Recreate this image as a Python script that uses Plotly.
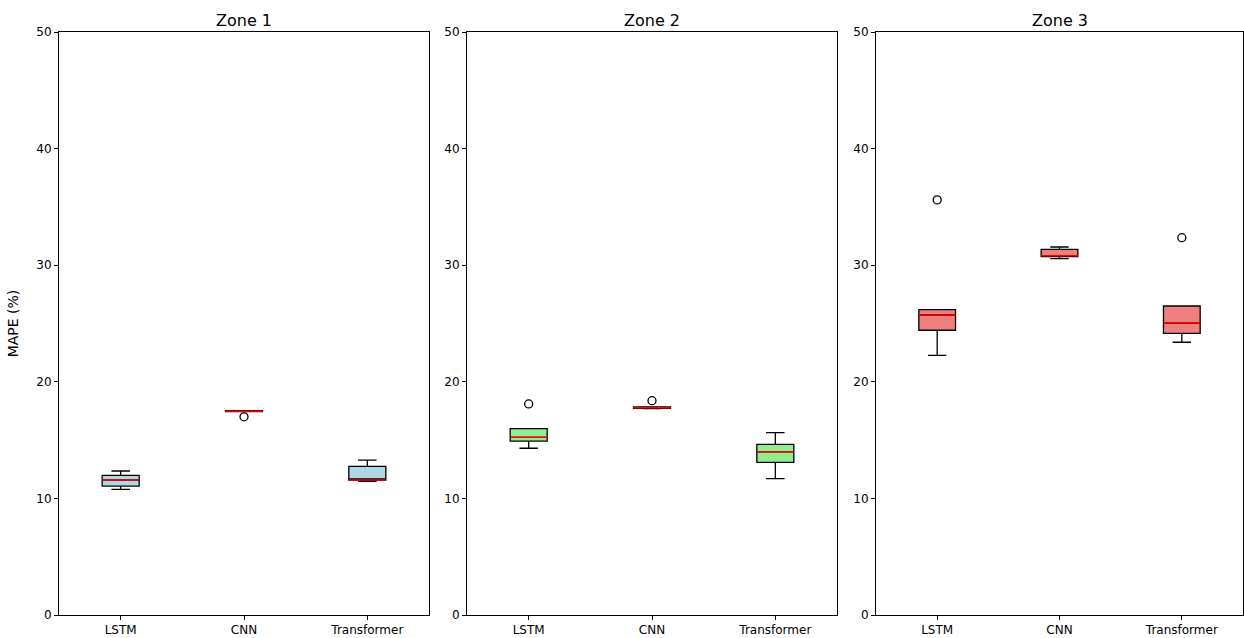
import plotly.graph_objects as go

zones = ["Zone 1", "Zone 2", "Zone 3"]
models = ["LSTM", "CNN", "Transformer"]
fills = ["#add8e6", "#90ee90", "#f08080"]

# precomputed box statistics [LSTM, CNN, Transformer] per zone
lower = [[10.78, 17.45, 11.47], [14.30, 17.70, 11.69], [22.27, 30.56, 23.39]]
q1 = [[11.06, 17.45, 11.58], [14.92, 17.72, 13.09], [24.42, 30.73, 24.16]]
median = [[11.58, 17.48, 11.58], [15.24, 17.78, 14.00], [25.73, 30.82, 25.04]]
q3 = [[11.98, 17.52, 12.75], [15.98, 17.85, 14.64], [26.19, 31.36, 26.50]]
upper = [[12.35, 17.52, 13.29], [15.98, 17.85, 15.64], [26.19, 31.56, 26.50]]
outliers = [[[], [17.00], []], [[18.10], [18.38], []], [[35.6], [], [32.36]]]

W, H = 1244, 638
L, R, T, B = 59, 1, 32, 23
PW, PH = W - L - R, H - T - B
xdoms = [(59, 429), (467, 837), (876, 1243)]
bw = 0.3

fig = go.Figure()
layout = {}
for z in range(3):
    xa = "x" if z == 0 else f"x{z+1}"
    ya = "y" if z == 0 else f"y{z+1}"
    for m in range(3):
        pos = m + 1
        fig.add_trace(go.Box(
            x=[pos], q1=[q1[z][m]], median=[median[z][m]], q3=[q3[z][m]],
            lowerfence=[lower[z][m]], upperfence=[upper[z][m]],
            width=bw, whiskerwidth=0.5, fillcolor=fills[z],
            line=dict(color="black", width=1.3), boxpoints=False,
            xaxis=xa, yaxis=ya, showlegend=False, hoverinfo="skip"))
        fig.add_trace(go.Scatter(
            x=[pos - bw / 2, pos + bw / 2], y=[median[z][m]] * 2,
            mode="lines", line=dict(color="#ff0000", width=1.5),
            xaxis=xa, yaxis=ya, showlegend=False, hoverinfo="skip"))
        if outliers[z][m]:
            fig.add_trace(go.Scatter(
                x=[pos] * len(outliers[z][m]), y=outliers[z][m], mode="markers",
                marker=dict(symbol="circle-open", size=8, color="black", line=dict(width=1.3)),
                xaxis=xa, yaxis=ya, showlegend=False, hoverinfo="skip"))
    x0, x1 = xdoms[z]
    layout["xaxis" if z == 0 else f"xaxis{z+1}"] = dict(
        domain=[(x0 - L) / PW, min((x1 - L) / PW, 1)], range=[0.5, 3.5], tickmode="array",
        tickvals=[1, 2, 3], ticktext=models, showline=True, mirror=True,
        linecolor="black", linewidth=1, ticks="outside", ticklen=4,
        tickcolor="black", showgrid=False, zeroline=False, anchor=ya, automargin=False,
        tickfont=dict(size=12, color="black", family="DejaVu Sans"))
    layout["yaxis" if z == 0 else f"yaxis{z+1}"] = dict(
        domain=[0, 1], range=[0, 50],
        tickvals=[0, 10, 20, 30, 40, 50], showline=True, mirror=True,
        linecolor="black", linewidth=1, ticks="outside", ticklen=4,
        tickcolor="black", showgrid=False, zeroline=False, anchor=xa, automargin=False,
        tickfont=dict(size=12, color="black", family="DejaVu Sans"),
        title=dict(text="MAPE (%)", font=dict(size=14, color="black", family="DejaVu Sans"), standoff=14) if z == 0 else None)

annotations = []
for z in range(3):
    x0, x1 = xdoms[z]
    annotations.append(dict(text=zones[z], x=((x0 + x1) / 2 - L) / PW, y=1 + 12 / PH,
                            xref="paper", yref="paper", showarrow=False,
                            xanchor="center", yanchor="middle",
                            font=dict(size=16, color="black", family="DejaVu Sans")))

fig.update_layout(width=W, height=H, margin=dict(l=L, r=R, t=T, b=B, autoexpand=False),
                  plot_bgcolor="white", paper_bgcolor="white",
                  annotations=annotations, **layout)
fig.write_html("out.html", config={"displayModeBar": False},
               post_script="document.body.style.margin='0';document.body.style.overflow='hidden';")
